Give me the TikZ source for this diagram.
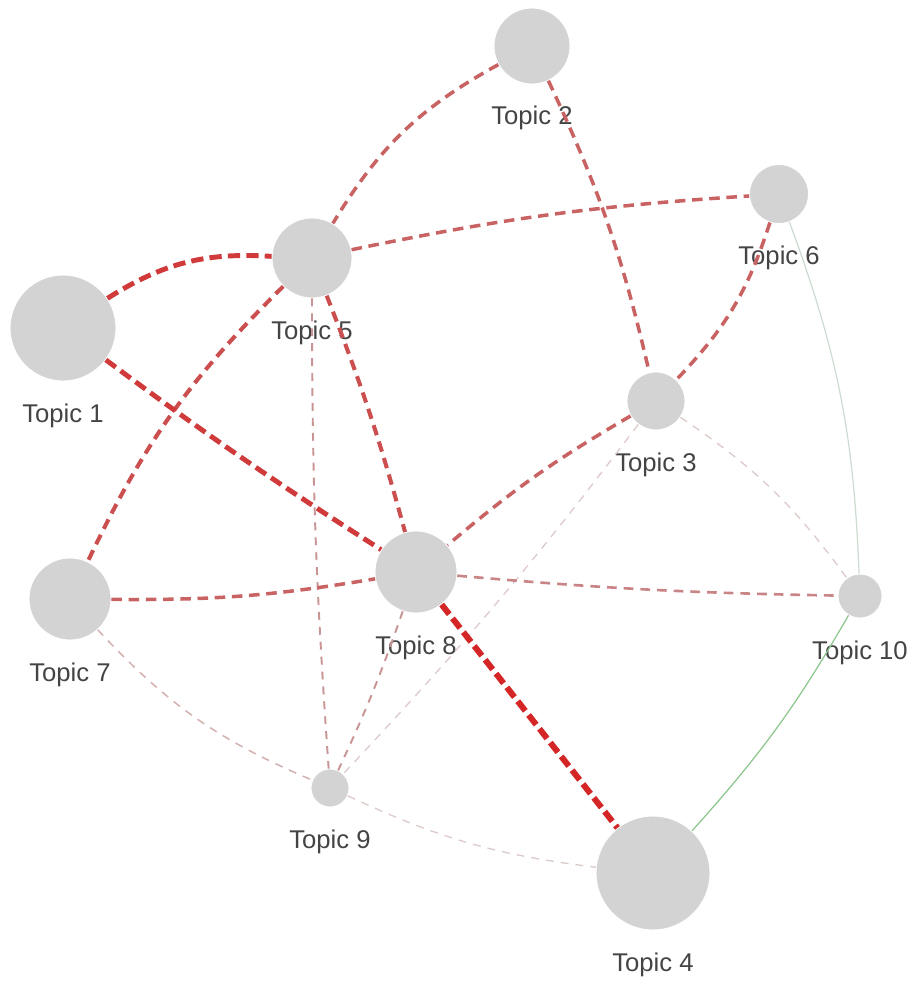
\documentclass[tikz,border=0pt]{standalone}
\usepackage{fontspec}
\setmainfont{Liberation Sans}
\definecolor{nodegray}{HTML}{D3D3D3}
\definecolor{labelgray}{HTML}{444444}
\definecolor{cA}{HTML}{D03A3A}
\definecolor{cB}{HTML}{D42626}
\definecolor{cC}{HTML}{C96262}
\definecolor{cD}{HTML}{CC4F4F}
\definecolor{cE}{HTML}{C98585}
\definecolor{cF}{HTML}{C99494}
\definecolor{cG}{HTML}{D4AFAF}
\definecolor{cH}{HTML}{DDCACA}
\definecolor{cI}{HTML}{CCDCD0}
\definecolor{cJ}{HTML}{8CC68C}
\begin{document}
\begin{tikzpicture}[x=0.02cm,y=-0.02cm,
  topic/.style={circle,fill=nodegray,draw=white,line width=0.5pt,inner sep=0pt,minimum size=#1},
  lbl/.style={anchor=base,text=labelgray,font=\fontsize{14.6}{17}\selectfont,inner sep=0pt},
  ethick/.style={draw=cA,line width=2.8pt,dash pattern=on 7pt off 3.5pt},
  estrong/.style={draw=cB,line width=3.4pt,dash pattern=on 7pt off 3pt},
  emed/.style={draw=cC,line width=2pt,dash pattern=on 6pt off 3.8pt},
  emedstrong/.style={draw=cD,line width=2.3pt,dash pattern=on 6pt off 3.8pt},
  elight/.style={draw=cE,line width=1.5pt,dash pattern=on 5.5pt off 4pt},
  ethinA/.style={draw=cF,line width=1.1pt,dash pattern=on 4.5pt off 4pt},
  ethinB/.style={draw=cG,line width=0.85pt,dash pattern=on 4.5pt off 4pt},
  ethinC/.style={draw=cH,line width=0.75pt,dash pattern=on 4.5pt off 4pt},
  esolidgray/.style={draw=cI,line width=0.7pt},
  esolidgreen/.style={draw=cJ,line width=0.7pt}
]
\useasboundingbox (0,0) rectangle (916,983);
% labels
\node[lbl] (t1) at (63,422) {Topic 1};
\node[lbl] (t2) at (532,125) {Topic 2};
\node[lbl] (t3) at (656,471) {Topic 3};
\node[lbl] (t4) at (653,971) {Topic 4};
\node[lbl] (t5) at (312,339) {Topic 5};
\node[lbl] (t6) at (779,264) {Topic 6};
\node[lbl] (t7) at (70,681) {Topic 7};
\node[lbl] (t8) at (416,654) {Topic 8};
\node[lbl] (t9) at (330,848) {Topic 9};
\node[lbl] (t10) at (860,659) {Topic 10};
% topic circles
\node[topic=2.12cm] (n1) at (63,328) {};
\node[topic=1.52cm] (n2) at (532,46) {};
\node[topic=1.16cm] (n3) at (656,401) {};
\node[topic=2.28cm] (n4) at (653,873) {};
\node[topic=1.60cm] (n5) at (312,258) {};
\node[topic=1.18cm] (n6) at (779,194) {};
\node[topic=1.64cm] (n7) at (70,599) {};
\node[topic=1.64cm] (n8) at (416,572) {};
\node[topic=0.76cm] (n9) at (330,788) {};
\node[topic=0.88cm] (n10) at (860,596) {};
% edges
\draw[ethinC] (n3) to[bend left=3] (n9);
\draw[ethinC] (n3) to[bend left=10] (n10);
\draw[ethinC] (n9) to[bend right=9] (n4);
\draw[ethinB] (n7) to[bend right=12] (n9);
\draw[ethinA] (n5) to[bend right=2] (n9);
\draw[ethinA] (n8) to[bend left=3] (n9);
\draw[elight] (n8) to[bend right=2] (n10);
\draw[esolidgray] (n6) to[bend left=9] (n10);
\draw[esolidgreen] (n10) to[bend left=6] (n4);
\draw[emed] (n2) to[bend right=15] (n5);
\draw[emed] (n2) to[bend left=6] (n3);
\draw[emed] (n5) to[bend left=4] (n6);
\draw[emed] (n6) to[bend left=13] (n3);
\draw[emed] (n3) to[bend right=5] (n8);
\draw[emed] (n7) to[bend right=5] (n8);
\draw[emedstrong] (n5) to[bend right=10] (n7);
\draw[emedstrong] (n5) to[bend left=3] (n8);
\draw[ethick] (n1) to[bend left=18] (n5);
\draw[ethick] (n1) to[bend right=2] (n8);
\draw[estrong] (n8) -- (n4);
\end{tikzpicture}
\end{document}
